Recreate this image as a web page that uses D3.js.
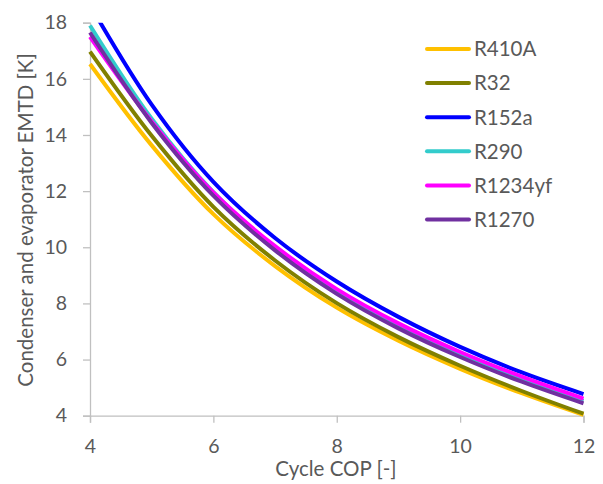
<!DOCTYPE html>
<html><head><meta charset="utf-8">
<script src="https://cdn.jsdelivr.net/npm/d3@7"></script>
<style>body{margin:0;background:#fff}svg{display:block}</style>
</head><body>
<script>
const cop = [4, 5, 6, 7, 8, 9, 10, 11, 12];
const seriesNames = ["R410A", "R32", "R152a", "R290", "R1234yf", "R1270"];
const R410A   = [16.53, 13.63, 11.18, 9.33, 7.85, 6.67, 5.67, 4.80, 4.03];
const R32     = [16.97, 13.97, 11.44, 9.53, 8.01, 6.80, 5.78, 4.88, 4.07];
const R152a   = [18.63, 15.08, 12.33, 10.33, 8.78, 7.52, 6.45, 5.54, 4.77];
const R290    = [17.90, 14.58, 11.96, 9.99, 8.42, 7.20, 6.18, 5.30, 4.53];
const R1234yf = [17.50, 14.48, 11.95, 10.04, 8.51, 7.29, 6.27, 5.39, 4.61];
const R1270   = [17.65, 14.43, 11.84, 9.89, 8.34, 7.11, 6.09, 5.21, 4.44];
const xTicks = [4, 6, 8, 10, 12];
const yTicks = [4, 6, 8, 10, 12, 14, 16, 18];
const colors = ["#FFC000", "#808000", "#0000FF", "#33CCCC", "#FF00FF", "#7030A0"];
const values = [R410A, R32, R152a, R290, R1234yf, R1270];

const W = 603, H = 484;
const font = "Lato, 'Open Sans', sans-serif";
const svg = d3.select("body").append("svg").attr("width", W).attr("height", H);
const x = d3.scaleLinear().domain([4, 12]).range([90, 583.5]);
const y = d3.scaleLinear().domain([4, 18]).range([415.7, 22.7]);

svg.append("defs").append("clipPath").attr("id", "clip")
  .append("rect").attr("x", 88).attr("y", 22.7).attr("width", 500).attr("height", 400);

const axisColor = "#c0c0c0", textColor = "#595959";
const xa = svg.append("g").attr("transform", `translate(0,${y(4)})`)
  .call(d3.axisBottom(x).tickValues(xTicks).tickSize(7).tickPadding(16).tickFormat(d3.format("d")));
const ya = svg.append("g").attr("transform", `translate(${x(4)},0)`)
  .call(d3.axisLeft(y).tickValues(yTicks).tickSize(7).tickPadding(16).tickFormat(d3.format("d")));
[xa, ya].forEach(a => {
  a.select(".domain").attr("stroke", axisColor).attr("stroke-width", 1.3);
  a.selectAll(".tick line").attr("stroke", axisColor).attr("stroke-width", 1.3);
  a.selectAll(".tick text").attr("fill", textColor).style("font-family", font).style("font-size", "19.5px");
});

const line = d3.line().x((d, i) => x(cop[i])).y(d => y(d)).curve(d3.curveCatmullRom.alpha(0.5));
const plot = svg.append("g").attr("clip-path", "url(#clip)");
values.forEach((v, k) => {
  plot.append("path").datum(v).attr("d", line).attr("fill", "none")
    .attr("stroke", colors[k]).attr("stroke-width", 4).attr("stroke-linejoin", "round");
});

const lg = svg.append("g");
seriesNames.forEach((n, k) => {
  const yy = 49 + k * 34.1;
  lg.append("line").attr("x1", 427).attr("x2", 469).attr("y1", yy).attr("y2", yy)
    .attr("stroke", colors[k]).attr("stroke-width", 4).attr("stroke-linecap", "round");
  lg.append("text").attr("x", 474).attr("y", yy).attr("dy", "0.36em").text(n)
    .attr("fill", textColor).style("font-family", font).style("font-size", "20.5px");
});

svg.append("text").attr("transform", `translate(26,${(43+397)/2}) rotate(-90)`)
  .attr("text-anchor", "middle").attr("dy", "0.35em").text("Condenser and evaporator EMTD [K]")
  .attr("fill", textColor).style("font-family", font).style("font-size", "20.5px");
svg.append("text").attr("x", 336).attr("y", 469).attr("text-anchor", "middle").attr("dy", "0.35em")
  .text("Cycle COP [-]").attr("fill", textColor).style("font-family", font).style("font-size", "20.5px");
</script>
</body></html>
